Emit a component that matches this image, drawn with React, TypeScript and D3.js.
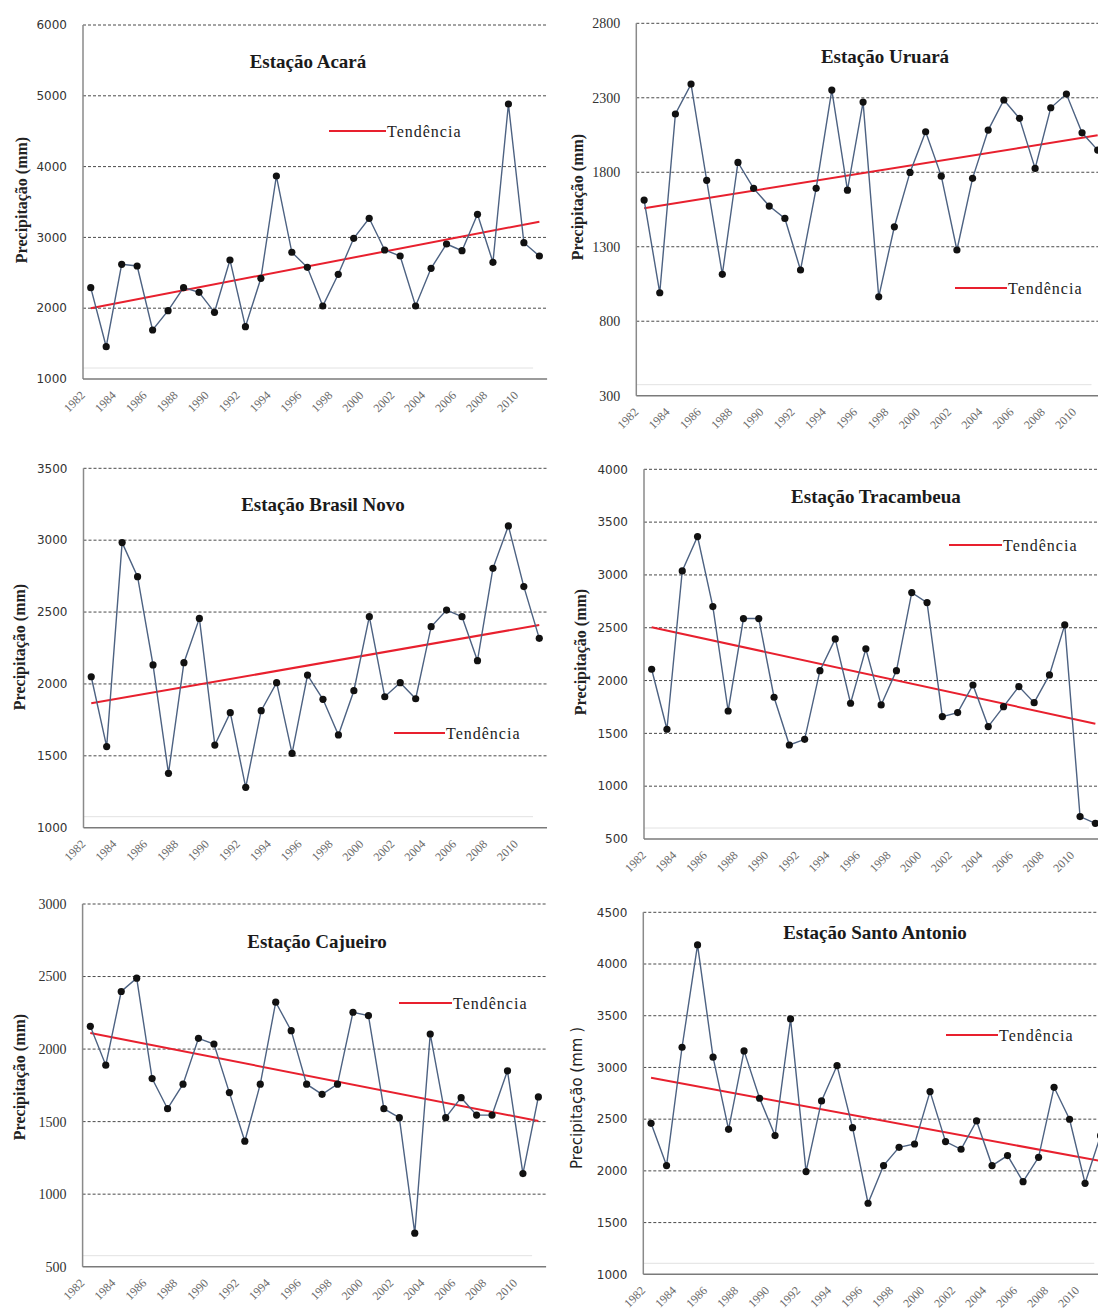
import React from 'react'
import * as d3 from 'd3'

const years = d3.range(1982, 2012)
const yearLabels = years.filter(y => (y - 1982) % 2 === 0)

// precipitation (mm)
const acara = [2290, 1456, 2620, 2596, 1692, 1965, 2290, 2224, 1942, 2681, 1739, 2422, 3867, 2790, 2577,
    2031, 2479, 2987, 3270, 2822, 2737, 2031, 2563, 2907, 2812, 3326, 2648, 4884, 2925, 2737]
const uruara = [1613, 991, 2191, 2392, 1746, 1115, 1866, 1692, 1573, 1490, 1144, 1692, 2352, 1680, 2271,
    964, 1434, 1799, 2072, 1774, 1278, 1759, 2083, 2285, 2162, 1826, 2233, 2325, 2065, 1949]
const brasilNovo = [2050, 1564, 2983, 2746, 2132, 1378, 2148, 2456, 1575, 1800, 1281, 1814, 2009, 1517, 2062,
    1893, 1645, 1953, 2468, 1911, 2009, 1897, 2398, 2514, 2468, 2162, 2804, 3099, 2677, 2317]
const tracambeua = [2107, 1539, 3038, 3363, 2700, 1712, 2587, 2587, 1842, 1390, 1444, 2094, 2394, 1785, 2300,
    1769, 2094, 2833, 2738, 1659, 1697, 1958, 1564, 1753, 1943, 1791, 2053, 2527, 712, 648]
const cajueiro = [2157, 1889, 2397, 2489, 1797, 1589, 1758, 2074, 2035, 1700, 1365, 1758, 2323, 2127, 1758,
    1688, 1758, 2254, 2231, 1589, 1527, 731, 2104, 1527, 1665, 1545, 1545, 1850, 1142, 1670]
const santoAntonio = [2460, 2051, 3195, 4185, 3099, 2402, 3160, 2702, 2341, 3469, 1993, 2676, 3018, 2418, 1687,
    2051, 2228, 2260, 2767, 2283, 2209, 2483, 2051, 2148, 1896, 2131, 2808, 2499, 1880, 2340]

// trend line values at 1982 and 2011
const acaraTrend = [2000, 3222]
const uruaraTrend = [1558, 2048]
const brasilNovoTrend = [1865, 2410]
const tracambeuaTrend = [2505, 1592]
const cajueiroTrend = [2111, 1504]
const santoAntonioTrend = [2900, 2095]

const titles = ['Estação Acará', 'Estação Uruará', 'Estação Brasil Novo', 'Estação Tracambeua', 'Estação Cajueiro', 'Estação Santo Antonio']
const yDomains = [[1000, 6000], [300, 2800], [1000, 3500], [500, 4000], [500, 3000], [1000, 4500]]
const yTickSteps = [1000, 500, 500, 500, 500, 500]
const series = [acara, uruara, brasilNovo, tracambeua, cajueiro, santoAntonio]
const trends = [acaraTrend, uruaraTrend, brasilNovoTrend, tracambeuaTrend, cajueiroTrend, santoAntonioTrend]

const SERIF = '"Liberation Serif", "Times New Roman", serif'
const SANS = '"DejaVu Sans", Verdana, sans-serif'

// layout of each panel (pixels)
const layouts = [
    { left: 83, step: 15.47, top: 25, bottom: 379, title: [308, 68], yTitle: [21, 200], legend: [329, 386, 131], tickFont: SANS, yTitleFont: SERIF },
    { left: 636.3, step: 15.64, top: 23.3, bottom: 395.7, title: [885, 63], yTitle: [577, 197], legend: [955, 1007, 288], tickFont: SERIF, yTitleFont: SERIF },
    { left: 83.5, step: 15.45, top: 468.3, bottom: 827.7, title: [323, 511], yTitle: [19, 647], legend: [394, 445, 733], tickFont: SANS, yTitleFont: SERIF },
    { left: 644, step: 15.3, top: 469.3, bottom: 839, title: [876, 503], yTitle: [580, 652], legend: [949, 1002, 545], tickFont: SANS, yTitleFont: SERIF },
    { left: 82.6, step: 15.45, top: 904, bottom: 1266.7, title: [317, 948], yTitle: [19, 1077], legend: [399, 452, 1003], tickFont: SERIF, yTitleFont: SERIF },
    { left: 643.3, step: 15.5, top: 912.3, bottom: 1274.3, title: [875, 939], yTitle: [577, 1098], legend: [946, 998, 1035], tickFont: SANS, yTitleFont: SANS },
]

const Panel: React.FC<{ i: number }> = ({ i }) => {
    const L = layouts[i]
    const values = series[i]
    const [y0, y1] = yDomains[i]
    const right = L.left + L.step * years.length

    const x = d3.scalePoint<number>().domain(years).range([L.left, right]).padding(0.5)
    const y = d3.scaleLinear().domain([y0, y1]).range([L.bottom, L.top])
    const ticks = d3.range(y0, y1 + 1, yTickSteps[i])

    const line = d3.line<number>()
        .x((_, k) => x(years[k])!)
        .y(d => y(d))

    const trend = trends[i]
    const serif = L.yTitleFont === SERIF

    return (
        <g>
            {/* gridlines */}
            {ticks.slice(1).map(t => (
                <line key={t} x1={L.left} x2={right} y1={y(t)} y2={y(t)} stroke="#4a4a4a" strokeWidth={1} strokeDasharray="3,2" />
            ))}
            <line x1={L.left} x2={right - 14} y1={L.bottom - 11} y2={L.bottom - 11} stroke="#e2e2e2" strokeWidth={1} />
            {/* axes */}
            <line x1={L.left} x2={L.left} y1={L.top} y2={L.bottom} stroke="#8a8a8a" strokeWidth={1.5} />
            <line x1={L.left} x2={right} y1={L.bottom} y2={L.bottom} stroke="#7a7a7a" strokeWidth={1.5} />

            {ticks.map(t => (
                <text key={t} x={L.left - 16} y={y(t)} dy="0.35em" textAnchor="end"
                    fontFamily={L.tickFont} fontSize={L.tickFont === SERIF ? 14 : 12} fill="#333">{t}</text>
            ))}
            {yearLabels.map(yr => (
                <text key={yr} transform={`translate(${x(yr)! - 5},${L.bottom + 17}) rotate(-45)`} textAnchor="end"
                    fontFamily={SERIF} fontSize={12} fill="#6a6a6a">{yr}</text>
            ))}

            <text transform={`translate(${L.yTitle[0]},${L.yTitle[1]}) rotate(-90)`} textAnchor="middle" dy="0.35em"
                fontFamily={L.yTitleFont} fontSize={serif ? 16 : 15} fontWeight={serif ? 'bold' : 'normal'} fill="#222">
                {serif ? 'Precipitação (mm)' : 'Precipitação  (mm )'}
            </text>

            <text x={L.title[0]} y={L.title[1]} textAnchor="middle" fontFamily={SERIF} fontSize={19} fontWeight="bold" fill="#1a1a1a">
                {titles[i]}
            </text>

            {/* trend */}
            <line x1={x(1982)} x2={x(2011)} y1={y(trend[0])} y2={y(trend[1])} stroke="#e8202e" strokeWidth={2} />

            {/* series */}
            <path d={line(values) ?? ''} fill="none" stroke="#4d6282" strokeWidth={1.4} />
            {values.map((v, k) => (
                <circle key={k} cx={x(years[k])} cy={y(v)} r={3.6} fill="#111" />
            ))}

            {/* legend */}
            <line x1={L.legend[0]} x2={L.legend[1]} y1={L.legend[2]} y2={L.legend[2]} stroke="#e8202e" strokeWidth={2} />
            <text x={L.legend[1] + 1} y={L.legend[2]} dy="0.35em" fontFamily={SERIF} fontSize={16} letterSpacing={1} fill="#222">
                Tendência
            </text>
        </g>
    )
}

export default function App() {
    return (
        <svg width={1098} height={1313} style={{ position: 'absolute', left: 0, top: 0, background: '#fff' }}>
            <rect width={1098} height={1313} fill="#fff" />
            {layouts.map((_, i) => <Panel key={i} i={i} />)}
        </svg>
    )
}
